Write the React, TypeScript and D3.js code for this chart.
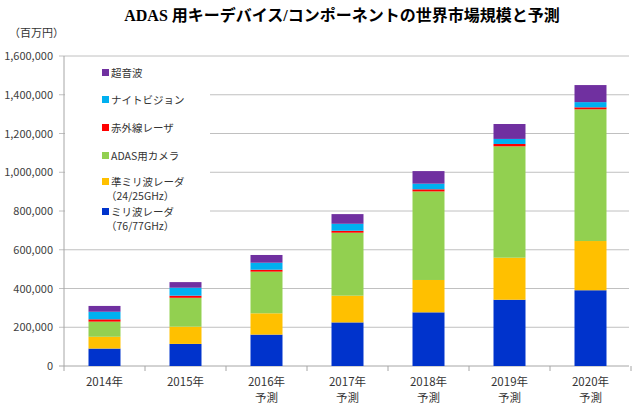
import React from "react";
import * as d3 from "d3";

const years = ["2014年", "2015年", "2016年", "2017年", "2018年", "2019年", "2020年"];
const forecast = [false, false, true, true, true, true, true];
const seriesNames = ["ミリ波レーダ", "準ミリ波レーダ", "ADAS用カメラ", "赤外線レーザ", "ナイトビジョン", "超音波"];
const milliwave = [90000, 114000, 162000, 225000, 277000, 342000, 391000];
const quasiMilli = [61000, 89000, 110000, 138000, 167000, 217000, 254000];
const camera = [78000, 149000, 215000, 325000, 457000, 575000, 680000];
const infrared = [12000, 11000, 10000, 10000, 11000, 12000, 10000];
const nightVision = [39000, 41000, 36000, 36000, 29000, 26000, 27000];
const ultrasonic = [30000, 29000, 40000, 50000, 65000, 77000, 88000];
const colors = ["#0033CC", "#FFC000", "#92D050", "#FF0000", "#00B0F0", "#7030A0"];
const yTicks = [0, 200000, 400000, 600000, 800000, 1000000, 1200000, 1400000, 1600000];

const legendItems = [
  { idx: 5, lines: ["超音波"] },
  { idx: 4, lines: ["ナイトビジョン"] },
  { idx: 3, lines: ["赤外線レーザ"] },
  { idx: 2, lines: ["ADAS用カメラ"] },
  { idx: 1, lines: ["準ミリ波レーダ", "（24/25GHz）"] },
  { idx: 0, lines: ["ミリ波レーダ", "（76/77GHz）"] },
];

export default function App() {
  const W = 637, H = 410;
  const left = 64, right = 631, top = 56, bottom = 366;
  const font = "'Noto Sans CJK JP', 'Noto Sans', sans-serif";
  const x = d3.scaleBand<string>().domain(years).range([left, right]).paddingInner(0.605).paddingOuter(0.3025);
  const y = d3.scaleLinear().domain([0, 1600000]).range([bottom, top]);
  const all = [milliwave, quasiMilli, camera, infrared, nightVision, ultrasonic];
  const rows = years.map((yr, i) => {
    const o: any = { year: yr };
    all.forEach((s, k) => (o["s" + k] = s[i]));
    return o;
  });
  const stack = d3.stack<any>().keys(all.map((_, k) => "s" + k))(rows);
  const legendY = [73, 100, 128, 156, 182, 212];

  return (
    <svg width={W} height={H} style={{ position: "absolute", left: 0, top: 0, background: "#fff" }}>
      <rect x={0} y={0} width={W} height={H} fill="#fff" />
      <text x={342} y={21} textAnchor="middle" fontFamily="'Liberation Serif', 'Noto Sans CJK JP', serif" fontWeight="bold" fontSize={16} fill="#000">
        ADAS 用キーデバイス/コンポーネントの世界市場規模と予測
      </text>
      <text x={9} y={37} fontFamily={font} fontSize={11} fill="#333">（百万円）</text>
      {yTicks.map((t) => (
        <g key={t}>
          <line x1={left - 5} x2={right - 2} y1={y(t)} y2={y(t)} stroke={t === 0 ? "#a6a6a6" : "#c0c0c0"} strokeWidth={1} />
          <text x={53} y={y(t) + 4} textAnchor="end" fontFamily={font} fontSize={11} fill="#404040">
            {d3.format(",")(t)}
          </text>
        </g>
      ))}
      <line x1={left} x2={left} y1={top} y2={bottom} stroke="#a6a6a6" />
      {years.map((yr, i) => (
        <line key={"tk" + i} x1={left + i * x.step()} x2={left + i * x.step()} y1={bottom} y2={bottom + 5} stroke="#a6a6a6" />
      ))}
      <line x1={right} x2={right} y1={bottom} y2={bottom + 5} stroke="#a6a6a6" />
      {/* legend background */}
      <rect x={left + 1} y={62} width={145} height={180} fill="#fff" />
      {stack.map((layer, k) => (
        <g key={"l" + k} fill={colors[k]}>
          {layer.map((d, i) => (
            <rect key={i} x={x(years[i])} y={y(d[1])} width={x.bandwidth()} height={Math.max(0, y(d[0]) - y(d[1]))} />
          ))}
        </g>
      ))}
      {years.map((yr, i) => (
        <g key={"xl" + i} fontFamily={font} fontSize={11.5} fill="#333" textAnchor="middle">
          <text x={x(yr)! + x.bandwidth() / 2} y={386}>{yr}</text>
          {forecast[i] && <text x={x(yr)! + x.bandwidth() / 2} y={402}>予測</text>}
        </g>
      ))}
      {legendItems.map((it, j) => (
        <g key={"lg" + j} fontFamily={font} fontSize={10.5} fill="#333">
          <rect x={102} y={legendY[j] - 4} width={7} height={7} fill={colors[it.idx]} />
          {it.lines.map((ln, m) => (
            <text key={m} x={m === 0 ? 111 : 106} y={legendY[j] + 4 + m * 14}>{ln}</text>
          ))}
        </g>
      ))}
    </svg>
  );
}
